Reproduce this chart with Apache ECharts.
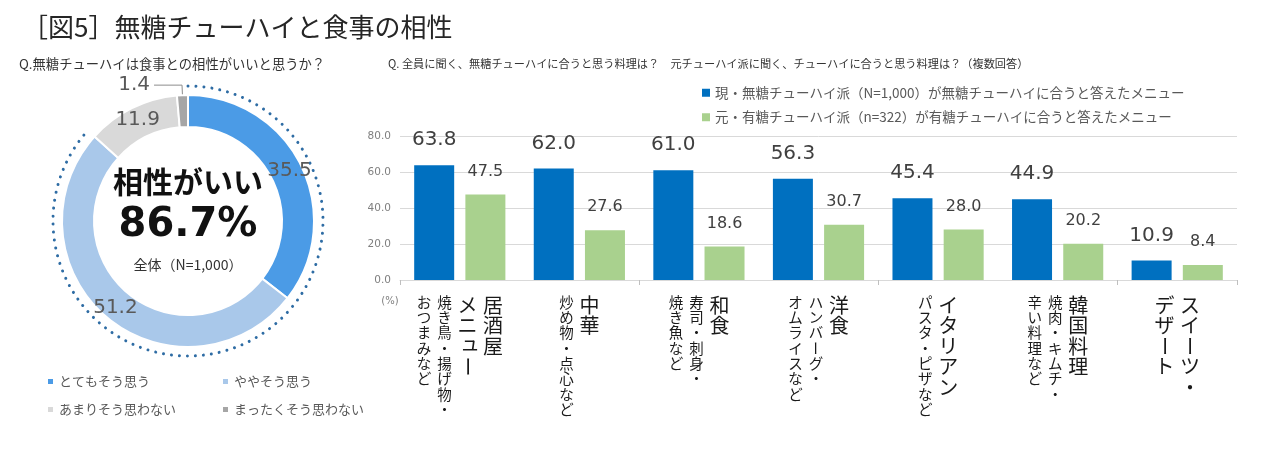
<!DOCTYPE html>
<html>
<head>
<meta charset="utf-8">
<script src="https://cdn.jsdelivr.net/npm/echarts@6/dist/echarts.min.js"></script>
<style>
html,body{margin:0;padding:0;background:#ffffff;}
#c{width:1280px;height:451px;}
</style>
</head>
<body>
<div id="c"></div>
<script>
// ---------- data ----------
const pieNames = ['とてもそう思う', 'ややそう思う', 'あまりそう思わない', 'まったくそう思わない'];
const pieValues = [35.5, 51.2, 11.9, 1.4];
const pieColors = ['#4b9be6', '#a9c8ea', '#d9d9d9', '#a6a6a6'];

const categories = ['居酒屋メニュー', '中華', '和食', '洋食', 'イタリアン', '韓国料理', 'スイーツ・デザート'];
const categoryTitleCols = [['居酒屋', 'メニュー'], ['中華'], ['和食'], ['洋食'], ['イタリアン'], ['韓国料理'], ['スイーツ・', 'デザート']];
const categoryNoteCols = [['焼き鳥・揚げ物・', 'おつまみなど'], ['炒め物・点心など'], ['寿司・刺身・', '焼き魚など'], ['ハンバーグ・', 'オムライスなど'], ['パスタ・ピザなど'], ['焼肉・キムチ・', '辛い料理など'], []];

const seriesNames = ['現・無糖チューハイ派（N=1,000）が無糖チューハイに合うと答えたメニュー', '元・有糖チューハイ派（n=322）が有糖チューハイに合うと答えたメニュー'];
const currentValues = [63.8, 62.0, 61.0, 56.3, 45.4, 44.9, 10.9];
const formerValues = [47.5, 27.6, 18.6, 30.7, 28.0, 20.2, 8.4];
const yMin = 0, yMax = 80, yStep = 20;

const titleText = '［図5］無糖チューハイと食事の相性';
const leftQuestion = 'Q.無糖チューハイは食事との相性がいいと思うか？';
const rightQuestion = 'Q. 全員に聞く、無糖チューハイに合うと思う料理は？　元チューハイ派に聞く、チューハイに合うと思う料理は？（複数回答）';
const centerHeadline = '相性がいい';
const centerValue = '86.7%';
const centerNote = '全体（N=1,000）';
const unitText = '(%)';

// ---------- style ----------
const JP = "'Noto Sans CJK JP', 'Noto Sans', sans-serif";
const NUM = "'DejaVu Sans', Verdana, sans-serif";
const PIE_C = [188, 221];

const chart = echarts.init(document.getElementById('c'), null, {renderer: 'canvas'});

const option = {
  animation: false,
  backgroundColor: '#ffffff',
  legend: [
    {
      data: [pieNames[0], pieNames[2]], orient: 'vertical', left: 46, top: 375,
      itemWidth: 7, itemHeight: 7, itemGap: 15, icon: 'rect', padding: 0, selectedMode: false,
      textStyle: {fontFamily: JP, fontSize: 13, color: '#595959'}
    },
    {
      data: [pieNames[1], pieNames[3]], orient: 'vertical', left: 221, top: 375,
      itemWidth: 7, itemHeight: 7, itemGap: 15, icon: 'rect', padding: 0, selectedMode: false,
      textStyle: {fontFamily: JP, fontSize: 13, color: '#595959'}
    },
    {
      data: seriesNames, orient: 'vertical', left: 702, top: 86,
      itemWidth: 8, itemHeight: 8, itemGap: 11, icon: 'rect', padding: 0, selectedMode: false,
      textStyle: {fontFamily: JP, fontSize: 13.5, color: '#595959'}
    }
  ],
  grid: {left: 400, right: 43, top: 136, bottom: 171, containLabel: false, outerBoundsMode: 'none'},
  xAxis: {
    type: 'category', data: categories,
    axisLabel: {show: false},
    axisLine: {lineStyle: {color: '#d9d9d9', width: 1}},
    axisTick: {show: true, length: 5, lineStyle: {color: '#bfbfbf'}}
  },
  yAxis: {
    type: 'value', min: yMin, max: yMax, interval: yStep,
    axisLine: {show: false}, axisTick: {show: false},
    axisLabel: {formatter: v => v.toFixed(1), fontFamily: NUM, fontSize: 10.5, color: '#7f7f7f', margin: 9},
    splitLine: {lineStyle: {color: '#d9d9d9', width: 1}}
  },
  series: [
    {
      type: 'pie', name: 'pie', center: PIE_C, radius: [94, 126], startAngle: 90, clockwise: true,
      avoidLabelOverlap: false,
      itemStyle: {borderColor: '#ffffff', borderWidth: 2},
      emphasis: {disabled: true},
      label: {show: true, position: 'inside', formatter: p => p.value.toFixed(1), fontFamily: NUM, fontSize: 20, color: '#595959'},
      labelLine: {show: false},
      data: pieNames.map((n, i) => {
        const d = {name: n, value: pieValues[i], itemStyle: {color: pieColors[i]}};
        if (i === 3) {
          d.label = {position: 'outside', distanceToLabelLine: 4};
          d.labelLine = {show: true, length: 10, length2: 28, lineStyle: {color: '#8c8c8c', width: 1}};
        }
        return d;
      })
    },
    {
      type: 'bar', name: seriesNames[0], data: currentValues, barWidth: 40, barGap: '28%',
      itemStyle: {color: '#0070c0'},
      label: {show: true, position: 'top', distance: 15, formatter: p => p.value.toFixed(1), fontFamily: NUM, fontSize: 20, color: '#404040'}
    },
    {
      type: 'bar', name: seriesNames[1], data: formerValues, barWidth: 40, barGap: '28%',
      itemStyle: {color: '#a9d18e'},
      label: {show: true, position: 'top', distance: 15, formatter: p => p.value.toFixed(1), fontFamily: NUM, fontSize: 16, color: '#404040'}
    }
  ]
};
chart.setOption(option);

// ---------- text / decoration graphics ----------
function txt(text, x, y, size, color, family, weight, align) {
  return {
    type: 'text', x: x, y: y, silent: true,
    style: {text: text, fill: color, fontSize: size, fontFamily: family, fontWeight: weight || 'normal',
      align: align || 'left', textAlign: align || 'left', verticalAlign: 'middle', textVerticalAlign: 'middle'}
  };
}

const SMALL_KANA = 'ァィゥェォッャュョヮぁぃぅぇぉっゃゅょ';
function verticalColumn(str, cx, top, size, pitch, color) {
  const els = [];
  Array.from(str).forEach((ch, i) => {
    const isBar = ch === 'ー';
    const small = SMALL_KANA.indexOf(ch) >= 0;
    els.push({
      type: 'text', silent: true,
      x: cx + (small ? size * 0.12 : 0),
      y: top + i * pitch + size / 2 - (small ? size * 0.12 : 0),
      rotation: isBar ? -Math.PI / 2 : 0,
      style: {text: ch, fill: color, fontSize: size, fontFamily: JP,
        align: 'center', textAlign: 'center', verticalAlign: 'middle', textVerticalAlign: 'middle'}
    });
  });
  return els;
}

const graphics = [];
graphics.push(txt(titleText, 22, 27, 26, '#262626', JP));
graphics.push(txt(leftQuestion, 19, 64, 13.3, '#333333', JP));
graphics.push(txt(rightQuestion, 388, 64, 11.2, '#333333', JP));
graphics.push(txt(centerHeadline, PIE_C[0], 182, 30, '#111111', JP, 'bold', 'center'));
graphics.push(txt(centerValue, PIE_C[0], 226, 40, '#111111', NUM, 'bold', 'center'));
graphics.push(txt(centerNote, PIE_C[0], 265, 14, '#333333', JP, 'normal', 'center'));
graphics.push(txt(unitText, 390, 301, 10, '#7f7f7f', NUM, 'normal', 'center'));

// dotted arc marking the "相性がいい" share (first two answers)
const pieTotal = pieValues.reduce((a, b) => a + b, 0);
const goodShare = (pieValues[0] + pieValues[1]) / pieTotal;
graphics.push({
  type: 'arc', silent: true,
  shape: {cx: PIE_C[0], cy: PIE_C[1], r: 135, startAngle: -Math.PI / 2, endAngle: -Math.PI / 2 + 2 * Math.PI * goodShare, clockwise: true},
  style: {stroke: '#2e6ca4', fill: null, lineWidth: 3, lineDash: [0.01, 8], lineCap: 'round'}
});

// vertical (tategaki) category labels, columns right-to-left
const BIG = {size: 20, pitch: 20.5, w: 21};
const SMALL = {size: 14.5, pitch: 15.3, w: 16};
const COL_GAP = 4.5;
const LABEL_TOP = 295;
categories.forEach((cat, i) => {
  const cx = chart.convertToPixel({xAxisIndex: 0}, cat);
  const cols = categoryTitleCols[i].map(s => ({s: s, t: BIG})).concat(categoryNoteCols[i].map(s => ({s: s, t: SMALL})));
  const totalW = cols.reduce((a, c) => a + c.t.w, 0) + COL_GAP * (cols.length - 1);
  let right = cx + totalW / 2;
  cols.forEach(c => {
    const colX = right - c.t.w / 2;
    verticalColumn(c.s, colX, LABEL_TOP, c.t.size, c.t.pitch, '#1a1a1a').forEach(e => graphics.push(e));
    right -= c.t.w + COL_GAP;
  });
});

chart.setOption({graphic: graphics});
</script>
</body>
</html>
